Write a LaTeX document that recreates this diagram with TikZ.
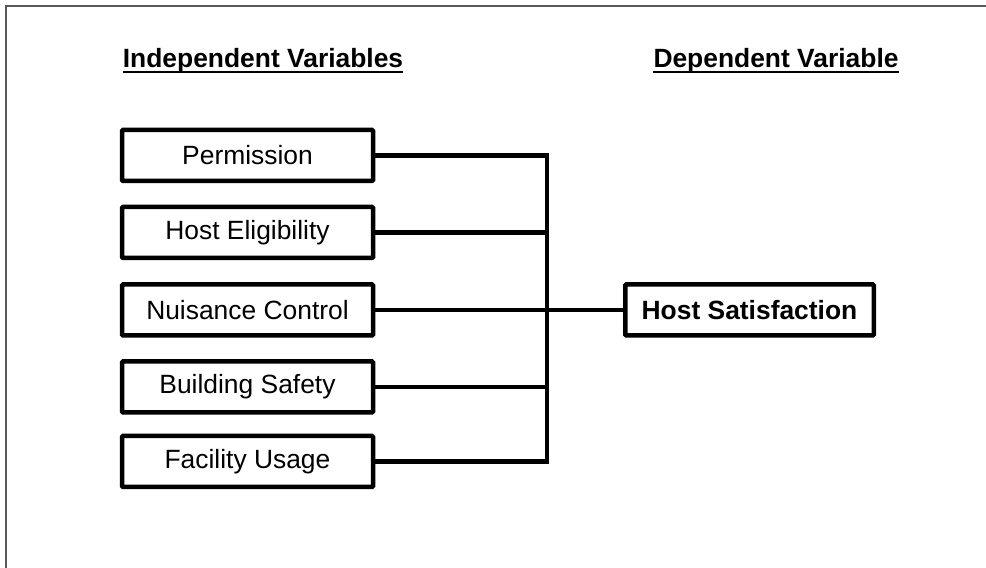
\documentclass[tikz,border=0pt]{standalone}
\usepackage{fontspec}
\setmainfont{Liberation Sans}
\begin{document}
\begin{tikzpicture}[x=1pt,y=1pt,
  every node/.style={font=\fontsize{26.4}{30}\selectfont},
  varbox/.style={draw, line width=4.5pt, rounded corners=1pt, minimum width=251pt,
    minimum height=51pt, inner sep=0pt},
  header/.style={anchor=base, inner sep=0pt, font=\fontsize{26.4}{30}\selectfont\bfseries},
  link/.style={line width=4.5pt, line join=miter},
  frame/.style={draw=black!65, line width=1.4pt}
]
  \useasboundingbox (0,0) rectangle (986,568);
  % open frame along the left and top edges
  \coordinate (fbl) at (6,0);
  \coordinate (ftl) at (6,562);
  \coordinate (ftr) at (986,562);
  \draw[frame] (fbl) -- (ftl) -- (ftr);

  % column headings, underlined
  \node[header] (hind) at (263,500) {Independent Variables};
  \node[header] (hdep) at (776,500) {Dependent Variable};
  \draw[line width=2.4pt] ([yshift=-3.8pt]hind.base west) -- ([yshift=-3.8pt]hind.base east);
  \draw[line width=2.4pt] ([yshift=-3.8pt]hdep.base west) -- ([yshift=-3.8pt]hdep.base east);

  % independent variables
  \node[varbox] (perm) at (247.5,412.5) {Permission};
  \node[varbox] (elig) at (247.5,335.5) {Host Eligibility};
  \node[varbox] (nuis) at (247.5,258) {Nuisance Control};
  \node[varbox] (safe) at (247.5,181) {Building Safety};
  \node[varbox] (fac)  at (247.5,106.5) {Facility Usage};

  % dependent variable
  \node[varbox, minimum width=248.5pt, font=\fontsize{26.4}{30}\selectfont\bfseries]
    (sat) at (749.5,258) {Host Satisfaction};

  % collecting bus with square outer corners
  \coordinate (btop) at (547,412.5);
  \coordinate (bbot) at (547,106.5);
  \draw[link] (perm.east) -- (btop) -- (bbot) -- (fac.east);
  \draw[link] (elig.east) -- (elig.east -| btop);
  \draw[link] (nuis.east) -- (sat.west);
  \draw[link] (safe.east) -- (safe.east -| btop);
\end{tikzpicture}
\end{document}
